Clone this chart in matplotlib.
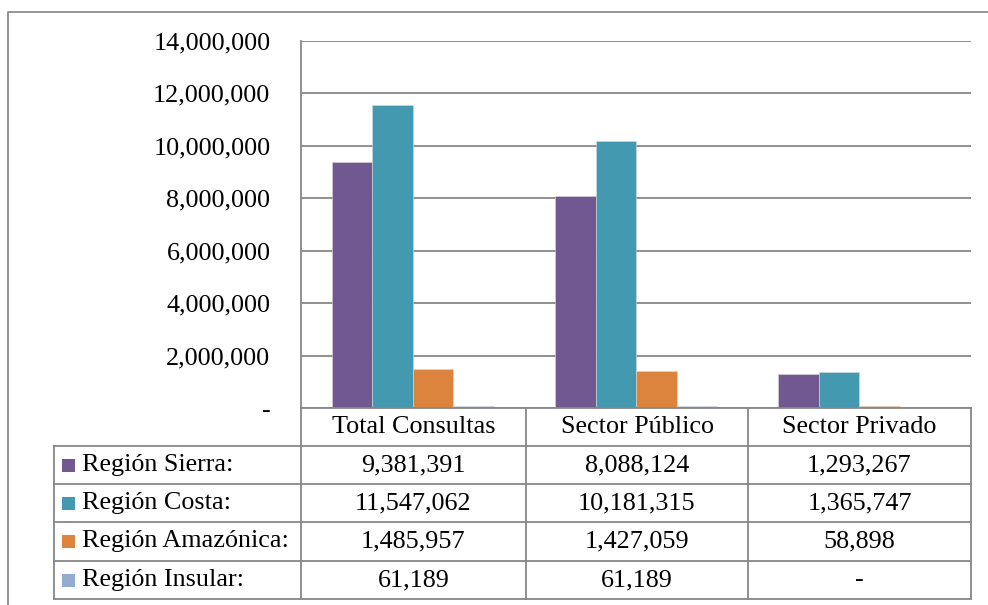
import matplotlib
matplotlib.use("Agg")
import matplotlib.pyplot as plt
from matplotlib.lines import Line2D
from matplotlib.patches import Rectangle
from matplotlib.ticker import FuncFormatter, MultipleLocator

# Data
categories = ["Total Consultas", "Sector Público", "Sector Privado"]
series_names = ["Región Sierra:", "Región Costa:", "Región Amazónica:", "Región Insular:"]
sierra = [9381391, 8088124, 1293267]
costa = [11547062, 10181315, 1365747]
amazonica = [1485957, 1427059, 58898]
insular = [61189, 61189, 0]
series_values = [sierra, costa, amazonica, insular]
colors = ["#725890", "#4299B0", "#DC843E", "#94AAD0"]
y_max = 14000000
y_step = 2000000

W, H = 988, 605
plt.rcParams["font.family"] = ["Liberation Serif", "DejaVu Serif"]
FS = 18.8
GRID = "#878787"
LW = 1.3

fig = plt.figure(figsize=(W / 100, H / 100), dpi=100)
fig.patch.set_facecolor("white")

# pixel geometry of the plot area and table
px_left, px_right = 301, 971
px_top, px_zero = 41, 408
row_lines = [408, 446, 484, 522, 561, 599]
col_lines = [301, 526, 748, 971]
label_left = 54


def fx(x):
    return x / W


def fy(y):
    return 1 - y / H


ax = fig.add_axes([fx(px_left), fy(px_zero), fx(px_right) - fx(px_left), fy(px_top) - fy(px_zero)])
ax.set_xlim(-0.5, len(categories) - 0.5)
ax.set_ylim(0, y_max)

n = len(series_values)
group_px = (px_right - px_left) / len(categories)
bar_w = 40.5 / group_px
for i, (vals, col) in enumerate(zip(series_values, colors)):
    xs = [k + (i - (n - 1) / 2) * bar_w for k in range(len(categories))]
    ax.bar(xs, vals, width=bar_w, color=col, edgecolor="#d9d9d9", linewidth=0.4, zorder=3)

ax.yaxis.set_major_locator(MultipleLocator(y_step))
ax.yaxis.set_major_formatter(FuncFormatter(lambda v, p: "-" if v == 0 else f"{int(v):,}"))
ax.tick_params(axis="y", length=0, pad=22, labelsize=FS, labelcolor="black")
ax.tick_params(axis="x", length=0, labelbottom=False)
ax.grid(axis="y", color=GRID, linewidth=LW, zorder=1)
ax.set_axisbelow(True)
for s in ["top", "right", "bottom"]:
    ax.spines[s].set_visible(False)
ax.spines["left"].set_color(GRID)
ax.spines["left"].set_linewidth(LW)
for lbl in ax.get_yticklabels():
    lbl.set_fontsize(FS)

# overlay in pixel coordinates for the data table and outer frame
ov = fig.add_axes([0, 0, 1, 1], zorder=5)
ov.set_xlim(0, W)
ov.set_ylim(H, 0)
ov.axis("off")
ov.patch.set_alpha(0)


def hline(y, x0, x1, color=GRID, lw=LW):
    ov.add_line(Line2D([x0, x1], [y, y], color=color, linewidth=lw))


def vline(x, y0, y1, color=GRID, lw=LW):
    ov.add_line(Line2D([x, x], [y0, y1], color=color, linewidth=lw))


# outer chart frame
frame_col = "#8c8c8c"
ov.add_line(Line2D([8, 8, W], [H, 12, 12], color=frame_col, linewidth=LW))

# table grid
hline(row_lines[0], col_lines[0], col_lines[-1])
for y in row_lines[1:]:
    hline(y, label_left, col_lines[-1])
vline(label_left, row_lines[1], row_lines[-1])
vline(col_lines[0], px_zero, row_lines[-1])
for x in col_lines[1:]:
    vline(x, row_lines[0], row_lines[-1])

# header row
hy = (row_lines[0] + row_lines[1]) / 2
for k, cat in enumerate(categories):
    cx = (col_lines[k] + col_lines[k + 1]) / 2
    ov.text(cx, hy, cat, ha="center", va="center", fontsize=FS)

# series rows
for i, (name, vals, col) in enumerate(zip(series_names, series_values, colors)):
    cy = (row_lines[i + 1] + row_lines[i + 2]) / 2
    ov.add_patch(Rectangle((62, cy - 6.5), 13, 13, facecolor=col, edgecolor="none"))
    ov.text(82, cy, name, ha="left", va="center", fontsize=FS)
    for k, v in enumerate(vals):
        cx = (col_lines[k] + col_lines[k + 1]) / 2
        txt = "-" if v == 0 else f"{v:,}"
        ov.text(cx, cy, txt, ha="center", va="center", fontsize=FS)

fig.savefig("out.png", dpi=100, facecolor="white")
